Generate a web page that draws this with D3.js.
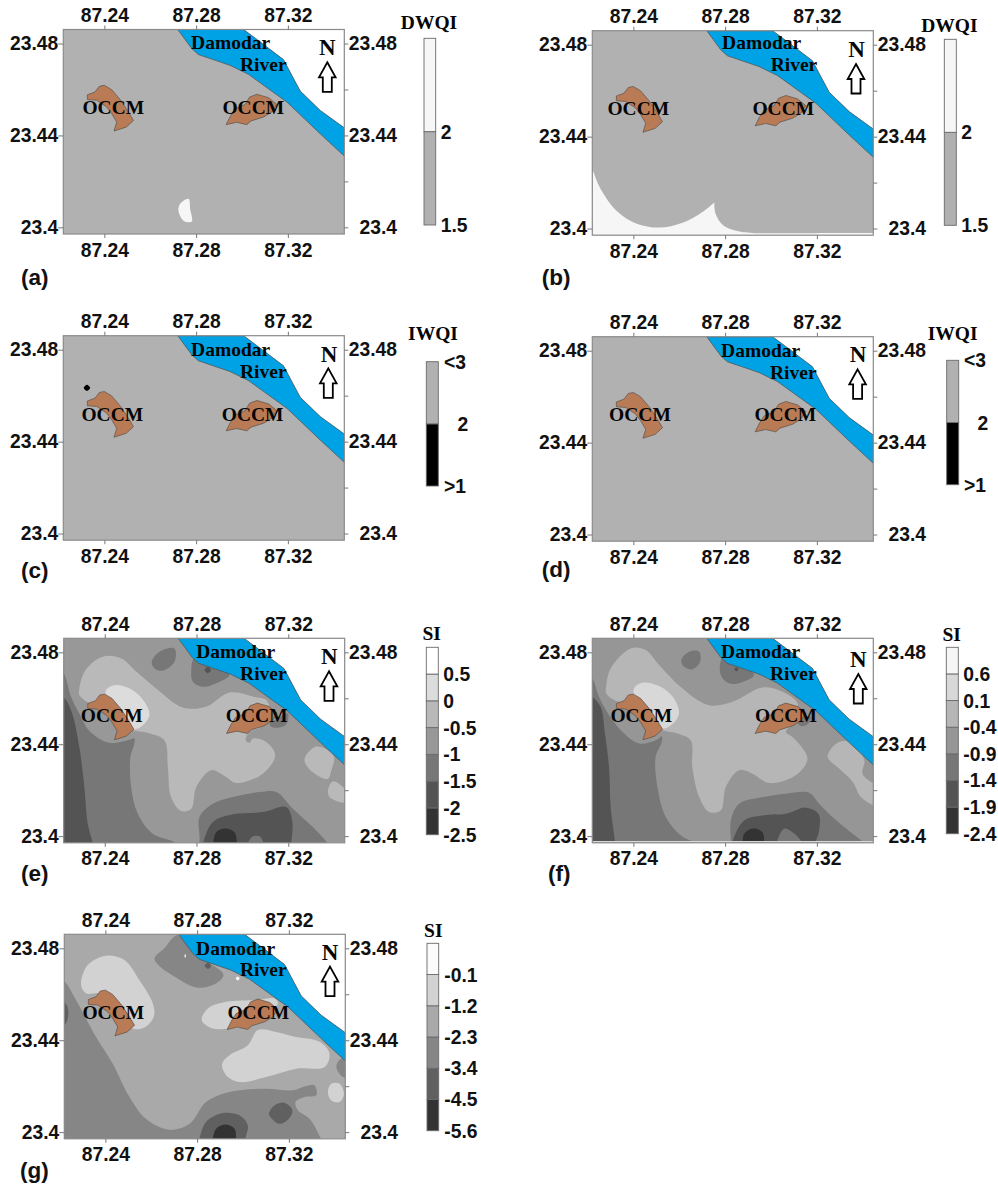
<!DOCTYPE html>
<html>
<head>
<meta charset="utf-8">
<style>
  html, body { margin: 0; padding: 0; background: #fff; }
  svg { display: block; }
  .axis text, .legend-label, .panel-tag { font-family: "Liberation Sans", Arial, sans-serif; font-weight: bold; fill: #111; }
  .axis text { font-size: 19.3px; }
  .legend-label { font-size: 19.3px; }
  .panel-tag { font-size: 22.5px; }
  .map-text { font-family: "Liberation Serif", "Times New Roman", serif; font-weight: bold; font-size: 19.5px; fill: #050505; text-anchor: middle; }
  .axis line { stroke: #777; }
</style>
</head>
<body>
<div id="chart"></div>
<script src="https://cdn.jsdelivr.net/npm/d3@7"></script>
<script>
/*******************************/
/*       Axis tick values      */
/*******************************/

var lonTicks = [87.24, 87.28, 87.32];
var latTicks = [23.40, 23.44, 23.48];
var latTicksMinor = [23.40, 23.42, 23.44, 23.46, 23.48];
var lonExtent = [87.2221, 87.3446];
var latExtent = [23.4861, 23.3971];

/*******************************/
/*   Map features (lon, lat)   */
/*******************************/

var riverOutline = [[87.2720,23.4861],[87.3007,23.4861],[87.3050,23.4829],[87.3181,23.4730],[87.3217,23.4662],[87.3254,23.4593],[87.3341,23.4509],[87.3446,23.4433],[87.3446,23.4310],[87.3341,23.4407],[87.3196,23.4545],[87.3028,23.4666],[87.2948,23.4705],[87.2810,23.4752],[87.2781,23.4778]];
var northBank = [[87.3007,23.4861],[87.3446,23.4861],[87.3446,23.4433],[87.3341,23.4509],[87.3254,23.4593],[87.3217,23.4662],[87.3181,23.4730],[87.3050,23.4829]];
var occmWest = [[87.2400,23.4618],[87.2432,23.4599],[87.2471,23.4553],[87.2505,23.4502],[87.2527,23.4465],[87.2495,23.4436],[87.2442,23.4419],[87.2454,23.4458],[87.2432,23.4495],[87.2410,23.4524],[87.2367,23.4553],[87.2326,23.4556],[87.2326,23.4577],[87.2359,23.4589],[87.2378,23.4614]];
var occmEast = [[87.2931,23.4447],[87.2977,23.4457],[87.3021,23.4447],[87.3039,23.4463],[87.3094,23.4480],[87.3130,23.4502],[87.3152,23.4535],[87.3116,23.4564],[87.3065,23.4579],[87.3033,23.4567],[87.3014,23.4535],[87.2970,23.4516],[87.2951,23.4487]];

/*******************************/
/*      Water quality zones    */
/*******************************/

// (a) DWQI
var aWhite = [[87.2730,23.4102],[87.2767,23.4124],[87.2774,23.4080],[87.2781,23.4025],[87.2745,23.4029],[87.2723,23.4073]];
// (b) DWQI
var bWhite = [[87.2179,23.4313],[87.2218,23.4262],[87.2252,23.4182],[87.2324,23.4080],[87.2412,23.4022],[87.2513,23.4004],[87.2615,23.4025],[87.2703,23.4073],[87.2753,23.4113],[87.2753,23.4113],[87.2758,23.4065],[87.2790,23.4015],[87.2848,23.3990],[87.2921,23.3981],[87.3270,23.3981],[87.3446,23.3981],[87.3600,23.3981],[87.3700,23.3981],[87.3700,23.3800],[87.2179,23.3800]];
// (c) IWQI
var cBlackSpot = [[87.2310,23.4634],[87.2324,23.4648],[87.2338,23.4634],[87.2324,23.4620]];

// (e) SI
var eLeftA = [[87.2159,23.4752],[87.2217,23.4716],[87.2253,23.4607],[87.2289,23.4534],[87.2333,23.4458],[87.2420,23.4406],[87.2500,23.4417],[87.2529,23.4425],[87.2529,23.4403],[87.2512,23.4345],[87.2515,23.4214],[87.2544,23.4097],[87.2609,23.4010],[87.2711,23.3969],[87.2755,23.3908],[87.2159,23.3908]];
var eLeftB = [[87.2159,23.4621],[87.2217,23.4607],[87.2253,23.4548],[87.2289,23.4388],[87.2311,23.4214],[87.2326,23.4054],[87.2348,23.3969],[87.2362,23.3908],[87.2159,23.3908]];
var eBottomA = [[87.2799,23.3908],[87.2813,23.3981],[87.2813,23.4083],[87.2871,23.4141],[87.2959,23.4170],[87.3075,23.4192],[87.3148,23.4192],[87.3220,23.4119],[87.3322,23.4025],[87.3373,23.3969],[87.3424,23.3908]];
var eBottomB = [[87.2813,23.3908],[87.2828,23.3969],[87.2871,23.4061],[87.2959,23.4095],[87.3089,23.4105],[87.3191,23.4127],[87.3217,23.4068],[87.3213,23.3969],[87.3206,23.3908]];
var eBottomC = [[87.2871,23.3952],[87.2886,23.4017],[87.2925,23.4033],[87.2966,23.4017],[87.2976,23.3969],[87.2976,23.3908],[87.2871,23.3908]];
var eIslet = [[87.3024,23.3969],[87.3046,23.3999],[87.3075,23.3999],[87.3092,23.3969],[87.3097,23.3908],[87.3017,23.3908]];
var eTopBlob = [[87.2605,23.4759],[87.2639,23.4803],[87.2704,23.4817],[87.2704,23.4759],[87.2653,23.4720],[87.2617,23.4730]];
var eBankBlob = [[87.2791,23.4774],[87.2871,23.4745],[87.2944,23.4701],[87.2886,23.4665],[87.2828,23.4650],[87.2784,23.4672],[87.2777,23.4716]];
var eBankDot = [[87.2835,23.4723],[87.2849,23.4737],[87.2863,23.4723],[87.2849,23.4709]];
var eCentral = [[87.2289,23.4643],[87.2316,23.4723],[87.2391,23.4781],[87.2471,23.4774],[87.2537,23.4716],[87.2624,23.4643],[87.2740,23.4560],[87.2842,23.4563],[87.2944,23.4625],[87.3060,23.4604],[87.3104,23.4592],[87.3119,23.4548],[87.3082,23.4476],[87.3031,23.4454],[87.3014,23.4417],[87.3031,23.4406],[87.3046,23.4425],[87.3104,23.4410],[87.3143,23.4352],[87.3089,23.4272],[87.2973,23.4231],[87.2929,23.4257],[87.2864,23.4287],[87.2799,23.4214],[87.2777,23.4119],[87.2733,23.4109],[87.2689,23.4170],[87.2675,23.4301],[87.2660,23.4417],[87.2580,23.4451],[87.2522,23.4461],[87.2435,23.4505],[87.2362,23.4563],[87.2321,23.4585],[87.2289,23.4614]];
var eCore = [[87.2406,23.4636],[87.2442,23.4657],[87.2515,23.4639],[87.2573,23.4585],[87.2595,23.4527],[87.2566,23.4483],[87.2522,23.4465],[87.2464,23.4519],[87.2406,23.4592]];
var eEastA = [[87.3271,23.4337],[87.3315,23.4388],[87.3359,23.4381],[87.3399,23.4345],[87.3388,23.4287],[87.3373,23.4250],[87.3315,23.4272],[87.3279,23.4308]];
var eEastB = [[87.3373,23.4199],[87.3395,23.4239],[87.3446,23.4207],[87.3482,23.4156],[87.3446,23.4145],[87.3402,23.4156],[87.3380,23.4170]];
var eMineBlob = [[87.3119,23.4490],[87.3155,23.4512],[87.3199,23.4534],[87.3191,23.4487],[87.3162,23.4473],[87.3126,23.4476]];

// (f) SI
var fLeftA = [[87.2163,23.4730],[87.2217,23.4694],[87.2250,23.4607],[87.2294,23.4527],[87.2352,23.4454],[87.2425,23.4403],[87.2497,23.4417],[87.2524,23.4435],[87.2524,23.4410],[87.2497,23.4345],[87.2505,23.4214],[87.2541,23.4083],[87.2607,23.4003],[87.2672,23.3969],[87.2745,23.3908],[87.2163,23.3908]];
var fLeftB = [[87.2163,23.4614],[87.2217,23.4607],[87.2257,23.4563],[87.2276,23.4447],[87.2294,23.4301],[87.2301,23.4127],[87.2319,23.3981],[87.2323,23.3908],[87.2163,23.3908]];
var fBottomA = [[87.2825,23.3908],[87.2825,23.3981],[87.2825,23.4068],[87.2861,23.4141],[87.2948,23.4167],[87.3065,23.4185],[87.3167,23.4188],[87.3210,23.4141],[87.3268,23.4083],[87.3356,23.4010],[87.3407,23.3969],[87.3457,23.3908]];
var fBottomB = [[87.2825,23.3908],[87.2832,23.3974],[87.2883,23.4068],[87.2963,23.4090],[87.3065,23.4097],[87.3152,23.4124],[87.3207,23.4097],[87.3210,23.4025],[87.3193,23.3969],[87.3188,23.3908]];
var fBottomC = [[87.2876,23.3969],[87.2883,23.4010],[87.2922,23.4033],[87.2963,23.4017],[87.2970,23.3969],[87.2970,23.3908],[87.2873,23.3908]];
var fIslet = [[87.3024,23.3969],[87.3057,23.4032],[87.3094,23.4017],[87.3137,23.3969],[87.3145,23.3908],[87.3014,23.3908]];
var fTopBlob = [[87.2609,23.4767],[87.2643,23.4803],[87.2687,23.4803],[87.2691,23.4759],[87.2657,23.4726],[87.2621,23.4737]];
var fBankBlob = [[87.2788,23.4774],[87.2868,23.4745],[87.2927,23.4701],[87.2868,23.4668],[87.2817,23.4665],[87.2781,23.4701]];
var fBankDot = [[87.2840,23.4726],[87.2849,23.4735],[87.2858,23.4726],[87.2849,23.4717]];
var fCentral = [[87.2282,23.4657],[87.2301,23.4730],[87.2388,23.4817],[87.2454,23.4810],[87.2512,23.4745],[87.2614,23.4643],[87.2730,23.4570],[87.2832,23.4585],[87.2963,23.4647],[87.3050,23.4628],[87.3116,23.4577],[87.3094,23.4490],[87.3065,23.4454],[87.3101,23.4425],[87.3159,23.4337],[87.3108,23.4265],[87.2992,23.4231],[87.2919,23.4272],[87.2861,23.4287],[87.2803,23.4214],[87.2781,23.4112],[87.2730,23.4105],[87.2687,23.4170],[87.2657,23.4301],[87.2650,23.4417],[87.2585,23.4449],[87.2527,23.4461],[87.2439,23.4505],[87.2359,23.4577],[87.2316,23.4592],[87.2282,23.4621]];
var fCore = [[87.2403,23.4643],[87.2439,23.4668],[87.2512,23.4653],[87.2577,23.4599],[87.2599,23.4534],[87.2570,23.4487],[87.2527,23.4468],[87.2468,23.4519],[87.2410,23.4592]];
var fEast = [[87.3247,23.4345],[87.3276,23.4396],[87.3319,23.4415],[87.3356,23.4403],[87.3407,23.4330],[87.3399,23.4272],[87.3447,23.4231],[87.3501,23.4221],[87.3501,23.4119],[87.3447,23.4134],[87.3392,23.4170],[87.3356,23.4236],[87.3297,23.4294]];
var fMineBlob = [[87.3116,23.4497],[87.3145,23.4519],[87.3174,23.4519],[87.3159,23.4487],[87.3130,23.4479]];
var fBottomEdge = [[87.1800,23.3979],[87.1950,23.3979],[87.2200,23.3979],[87.2800,23.3979],[87.3500,23.3979],[87.3800,23.3979],[87.3950,23.3979],[87.3950,23.3700],[87.1800,23.3700]];

// (g) SI
var gMain = [[87.2156,23.4698],[87.2218,23.4662],[87.2272,23.4575],[87.2359,23.4415],[87.2432,23.4298],[87.2505,23.4153],[87.2577,23.4058],[87.2679,23.4010],[87.2767,23.4036],[87.2839,23.4131],[87.2941,23.4175],[87.3101,23.4189],[87.3217,23.4182],[87.3268,23.4199],[87.3312,23.4204],[87.3319,23.4160],[87.3268,23.4153],[87.3229,23.4131],[87.3239,23.4095],[87.3290,23.4058],[87.3341,23.3969],[87.3377,23.3891],[87.2156,23.3891]];
var gEdge = [[87.2185,23.4575],[87.2221,23.4567],[87.2239,23.4521],[87.2221,23.4465],[87.2185,23.4465]];
var gTopBlob = [[87.2614,23.4756],[87.2657,23.4800],[87.2716,23.4858],[87.2810,23.4764],[87.2915,23.4684],[87.2868,23.4640],[87.2796,23.4630],[87.2708,23.4673],[87.2636,23.4723]];
var gBankDot = [[87.2833,23.4724],[87.2847,23.4738],[87.2861,23.4724],[87.2847,23.4710]];
var gWest = [[87.2294,23.4640],[87.2323,23.4727],[87.2403,23.4768],[87.2483,23.4749],[87.2548,23.4662],[87.2607,23.4560],[87.2611,23.4502],[87.2570,23.4455],[87.2519,23.4451],[87.2476,23.4509],[87.2417,23.4575],[87.2374,23.4604],[87.2316,23.4604]];
var gMid = [[87.2820,23.4487],[87.2847,23.4538],[87.2927,23.4567],[87.3057,23.4575],[87.3137,23.4582],[87.3152,23.4560],[87.3087,23.4502],[87.3021,23.4461],[87.2941,23.4451],[87.2868,23.4451]];
var gSouth = [[87.2909,23.4298],[87.2941,23.4335],[87.3021,23.4378],[87.3065,23.4444],[87.3145,23.4436],[87.3225,23.4415],[87.3334,23.4393],[87.3377,23.4342],[87.3356,23.4284],[87.3232,23.4276],[87.3101,23.4240],[87.2985,23.4218],[87.2927,23.4247]];
var gEastSmall = [[87.3370,23.4175],[87.3385,23.4211],[87.3421,23.4211],[87.3440,23.4167],[87.3421,23.4131],[87.3385,23.4138]];
var gEastEdge = [[87.3407,23.4284],[87.3428,23.4320],[87.3479,23.4320],[87.3479,23.4233],[87.3436,23.4240]];
var gSouthBlob = [[87.3113,23.4080],[87.3137,23.4116],[87.3181,23.4128],[87.3215,23.4095],[87.3203,23.4062],[87.3159,23.4036],[87.3123,23.4062]];
var gBottomA = [[87.2803,23.3891],[87.2810,23.3969],[87.2839,23.4044],[87.2912,23.4083],[87.2985,23.4073],[87.3021,23.4029],[87.3011,23.3969],[87.3011,23.3891]];
var gBottomB = [[87.2868,23.3969],[87.2883,23.4015],[87.2924,23.4033],[87.2963,23.4015],[87.2970,23.3969],[87.2970,23.3891],[87.2868,23.3891]];
var gSpeckA = [[87.2745,23.4767],[87.2748,23.4775],[87.2751,23.4767],[87.2748,23.4759]];
var gSpeckB = [[87.2969,23.4669],[87.2977,23.4677],[87.2985,23.4669],[87.2977,23.4661]];

/*******************************/
/*        Colour legends       */
/*******************************/

var dwqiBreaks = [1.5, 2, 2.5];
var dwqiColors = ["#b1b1b1", "#f6f6f6"];
var iwqiBreaks = [1, 2, 3];
var iwqiColors = ["#000000", "#b1b1b1"];
var siBreaksE = [-2.5, -2, -1.5, -1, -0.5, 0, 0.5, 1];
var siBreaksF = [-2.4, -1.9, -1.4, -0.9, -0.4, 0.1, 0.6, 1.1];
var siColorsEF = ["#333333", "#545454", "#777777", "#989898", "#b9b9b9", "#dcdcdc", "#ffffff"];
var siColorsF = ["#333333", "#545454", "#777777", "#969696", "#b6b6b6", "#d8d8d8", "#f6f6f6"];
var siBreaksG = [-5.6, -4.5, -3.4, -2.3, -1.2, -0.1, 1];
var siColorsG = ["#333333", "#606060", "#868686", "#a9a9a9", "#d2d2d2", "#fbfbfb"];

/*******************************/
/*     Panels and their zones  */
/*******************************/

// each zone is [value inside the zone, outline], drawn in this order
var panels = [
  { tag: "(a)", left: 63.3, top: 29.5, base: 1.75, breaks: dwqiBreaks, colors: dwqiColors, title: "DWQI",
    zones: [[2.25, aWhite]],
    text: { damodar: [167.3, 13.3], river: [200, 35], west: [50, 78.3], east: [190, 78.3], north: [264, 18], arrow: [264, 32.8] },
    legend: { left: 424, top: 38.3, bottom: 225, width: 11.7, labelX: 440.7, titleX: 429, titleY: 22.7 }, tagAt: [21, 285] },
  { tag: "(b)", left: 592.3, top: 30.7, base: 1.75, breaks: dwqiBreaks, colors: dwqiColors, title: "DWQI",
    zones: [[2.25, bWhite]],
    text: { damodar: [169.3, 12], river: [201.7, 33.7], west: [46, 77.7], east: [191, 77.7], north: [264.3, 19.3], arrow: [263.7, 33.3] },
    legend: { left: 944.3, top: 39.3, bottom: 225.3, width: 12, labelX: 961.3, titleX: 949.3, titleY: 25.7 }, tagAt: [541.7, 285] },
  { tag: "(c)", left: 63.3, top: 335.7, base: 2.5, breaks: iwqiBreaks, colors: iwqiColors, title: "IWQI",
    zones: [[1.5, cBlackSpot]],
    text: { damodar: [167.3, 14.3], river: [200, 36], west: [49, 79], east: [189.3, 79], north: [265.7, 18.7], arrow: [265, 32.7] },
    legend: { left: 426.3, top: 361.7, bottom: 486, width: 12, labelX: 444, titleX: 433, titleY: 333, iwqi: true }, tagAt: [21, 578] },
  { tag: "(d)", left: 592.3, top: 336.7, base: 2.5, breaks: iwqiBreaks, colors: iwqiColors, title: "IWQI",
    zones: [],
    text: { damodar: [168.3, 14], river: [201, 36], west: [47.7, 78], east: [193, 78], north: [265.7, 18.3], arrow: [265.3, 32.7] },
    legend: { left: 946.7, top: 360.3, bottom: 484.7, width: 12, labelX: 964, titleX: 952.7, titleY: 333.3, iwqi: true }, tagAt: [541.7, 577] },
  { tag: "(e)", left: 63.7, top: 638.3, base: -0.75, breaks: siBreaksE, colors: siColorsEF, title: "SI",
    zones: [[-1.25, eLeftA], [-1.75, eLeftB], [-1.25, eBottomA], [-1.75, eBottomB], [-2.25, eBottomC], [-1.25, eIslet],
            [-1.25, eTopBlob], [-1.25, eBankBlob], [-1.75, eBankDot], [-0.25, eCentral], [0.25, eCore],
            [-0.25, eEastA], [-0.25, eEastB], [-1.25, eMineBlob]],
    text: { damodar: [172, 13.3], river: [199.7, 35], west: [48, 77.3], east: [193, 77.3], north: [265.7, 18.3], arrow: [265.3, 33] },
    legend: { left: 426.3, top: 647.3, bottom: 834.7, width: 12, labelX: 443.3, titleX: 431.7, titleY: 633.3 }, tagAt: [21, 881] },
  { tag: "(f)", left: 592.3, top: 638.3, base: -0.65, breaks: siBreaksF, colors: siColorsF, title: "SI",
    zones: [[-1.15, fLeftA], [-1.65, fLeftB], [-1.15, fBottomA], [-1.65, fBottomB], [-2.15, fBottomC], [-1.15, fIslet],
            [-1.15, fTopBlob], [-1.15, fBankBlob], [-1.65, fBankDot], [-0.15, fCentral], [0.35, fCore],
            [-0.15, fEast], [-1.15, fMineBlob], [0.35, fBottomEdge]],
    text: { damodar: [168.3, 13.3], river: [201, 35], west: [49, 77.3], east: [193.7, 77.3], north: [266, 21], arrow: [266, 35.7] },
    legend: { left: 946.3, top: 647.3, bottom: 833.7, width: 12, labelX: 963.3, titleX: 951.7, titleY: 634.3 }, tagAt: [548, 881] },
  { tag: "(g)", left: 64.3, top: 934.3, base: -1.75, breaks: siBreaksG, colors: siColorsG, title: "SI",
    zones: [[-2.85, gMain], [-3.95, gEdge], [-2.85, gTopBlob], [-3.95, gBankDot], [-0.65, gWest], [-0.65, gMid], [-0.65, gSouth],
            [-0.65, gEastSmall], [-2.85, gEastEdge], [-3.95, gSouthBlob], [-3.95, gBottomA], [-5, gBottomB], [0.4, gSpeckA], [0.4, gSpeckB]],
    text: { damodar: [171.3, 14], river: [199, 35.7], west: [49, 78], east: [194, 78], north: [265.7, 18.3], arrow: [265.7, 32.3] },
    legend: { left: 427, top: 943.3, bottom: 1130.7, width: 11.7, labelX: 444.3, titleX: 433.3, titleY: 930.7 }, tagAt: [20, 1178] }
];

/*******************************/
/*        Draw the panels      */
/*******************************/

var plotWidth = 281,
    plotHeight = 204.5;

var svg = d3.select("#chart").append("svg")
  .attr("width", 998)
  .attr("height", 1184);

var smoothLine = d3.line().curve(d3.curveCatmullRomClosed.alpha(0.5));
var straightLine = d3.line().curve(d3.curveLinearClosed);

var x = d3.scaleLinear().domain(lonExtent).range([0, plotWidth]);
var y = d3.scaleLinear().domain(latExtent).range([0, plotHeight]);

function project(points) {
  return points.map(function(p) { return [x(p[0]), y(p[1])]; });
}

function draw_map(g, panel, i) {
  var color = d3.scaleThreshold()
    .domain(panel.breaks.slice(1, -1))
    .range(panel.colors);

  svg.append("clipPath")
    .attr("id", "clip-" + i)
    .append("rect")
    .attr("width", plotWidth)
    .attr("height", plotHeight);

  var map = g.append("g").attr("clip-path", "url(#clip-" + i + ")");

  map.append("rect")
    .attr("width", plotWidth)
    .attr("height", plotHeight)
    .attr("fill", color(panel.base));

  map.selectAll(".zone")
    .data(panel.zones)
    .enter()
    .append("path")
    .attr("class", "zone")
    .attr("d", function(z) { return smoothLine(project(z[1])); })
    .attr("fill", function(z) { return color(z[0]); });

  map.append("path")
    .attr("d", straightLine(project(northBank)))
    .attr("fill", "#fff");

  map.append("path")
    .attr("d", straightLine(project(riverOutline)))
    .attr("fill", "#00a2e6")
    .attr("stroke", "#4a5a60")
    .attr("stroke-width", 0.8);

  map.selectAll(".occm")
    .data([occmWest, occmEast])
    .enter()
    .append("path")
    .attr("class", "occm")
    .attr("d", function(d) { return straightLine(project(d)); })
    .attr("fill", "#b87b56")
    .attr("stroke", "#5a5048")
    .attr("stroke-width", 0.7);

  g.append("rect")
    .attr("width", plotWidth)
    .attr("height", plotHeight)
    .attr("fill", "none")
    .attr("stroke", "#8a8a8a")
    .attr("stroke-width", 1.2);
}

function draw_axes(g) {
  var lonFormat = d3.format(".2f");
  var latFormat = function(d) { return +d.toFixed(2); };

  g.append("g").attr("class", "axis")
    .call(d3.axisTop(x).tickValues(lonTicks).tickSize(4).tickPadding(3.7).tickFormat(lonFormat));

  g.append("g").attr("class", "axis")
    .attr("transform", "translate(0," + plotHeight + ")")
    .call(d3.axisBottom(x).tickValues(lonTicks).tickSize(4).tickPadding(5).tickFormat(lonFormat));

  g.append("g").attr("class", "axis")
    .call(d3.axisLeft(y).tickValues(latTicks).tickSize(5).tickPadding(0).tickFormat(latFormat));

  // right axis has minor ticks and right aligned labels
  var right = g.append("g").attr("class", "axis")
    .attr("transform", "translate(" + plotWidth + ",0)")
    .call(d3.axisRight(y).tickValues(latTicksMinor).tickSize(4).tickFormat(function(d) {
      return latTicks.some(function(t) { return Math.abs(t - d) < 1e-6; }) ? latFormat(d) : "";
    }));

  right.selectAll("text")
    .attr("x", 52.7)
    .attr("text-anchor", "end");

  g.selectAll(".axis .domain").remove();
}

function draw_labels(g, panel) {
  var t = panel.text;
  var labels = [["Damodar", t.damodar], ["River", t.river], ["OCCM", t.west], ["OCCM", t.east]];

  g.selectAll(".map-label")
    .data(labels)
    .enter()
    .append("text")
    .attr("class", "map-text map-label")
    .attr("x", function(d) { return d[1][0]; })
    .attr("y", function(d) { return d[1][1] + 6.5; })
    .text(function(d) { return d[0]; });

  g.append("text")
    .attr("class", "map-text")
    .attr("x", t.north[0])
    .attr("y", t.north[1] + 7.5)
    .style("font-size", "23px")
    .text("N");

  // north arrow
  var ax = t.arrow[0], ay = t.arrow[1];
  var arrowPath = d3.path();
  arrowPath.moveTo(ax, ay);
  arrowPath.lineTo(ax + 8.3, ay + 15);
  arrowPath.lineTo(ax + 4.5, ay + 15);
  arrowPath.lineTo(ax + 4.5, ay + 29.5);
  arrowPath.lineTo(ax - 4.5, ay + 29.5);
  arrowPath.lineTo(ax - 4.5, ay + 15);
  arrowPath.lineTo(ax - 8.3, ay + 15);
  arrowPath.closePath();

  g.append("path")
    .attr("d", arrowPath.toString())
    .attr("fill", "#fff")
    .attr("stroke", "#000")
    .attr("stroke-width", 1.8)
    .attr("stroke-linejoin", "miter");
}

function draw_legend(panel) {
  var L = panel.legend;
  var scale = d3.scaleLinear()
    .domain(d3.extent(panel.breaks))
    .range([L.bottom, L.top]);

  var g = svg.append("g").attr("class", "legend");

  g.selectAll("rect")
    .data(d3.pairs(panel.breaks))
    .enter()
    .append("rect")
    .attr("x", L.left)
    .attr("y", function(d) { return scale(d[1]); })
    .attr("width", L.width)
    .attr("height", function(d) { return scale(d[0]) - scale(d[1]); })
    .attr("fill", function(d, i) { return panel.colors[i]; })
    .attr("stroke", "#6a6a6a")
    .attr("stroke-width", 0.9);

  g.append("text")
    .attr("class", "map-text")
    .attr("x", L.titleX)
    .attr("y", L.titleY + 6.5)
    .text(panel.title);

  // the top break carries no label, except on the IWQI bars
  var labelled = L.iwqi ? panel.breaks : panel.breaks.slice(0, -1);

  g.selectAll(".legend-label")
    .data(labelled)
    .enter()
    .append("text")
    .attr("class", "legend-label")
    .attr("x", function(d) {
      return L.iwqi && d == 2 ? L.labelX + 13.5 : L.labelX;
    })
    .attr("y", function(d) { return scale(d) + 7; })
    .text(function(d) {
      if (L.iwqi) {
        return d == 3 ? "<3" : d == 1 ? ">1" : "2";
      }
      return d;
    });
}

panels.forEach(function(panel, i) {
  var g = svg.append("g")
    .attr("transform", "translate(" + panel.left + "," + panel.top + ")");

  draw_map(g, panel, i);
  draw_axes(g);
  draw_labels(g, panel);
  draw_legend(panel);

  svg.append("text")
    .attr("class", "panel-tag")
    .attr("x", panel.tagAt[0])
    .attr("y", panel.tagAt[1])
    .text(panel.tag);
});
</script>
</body>
</html>
